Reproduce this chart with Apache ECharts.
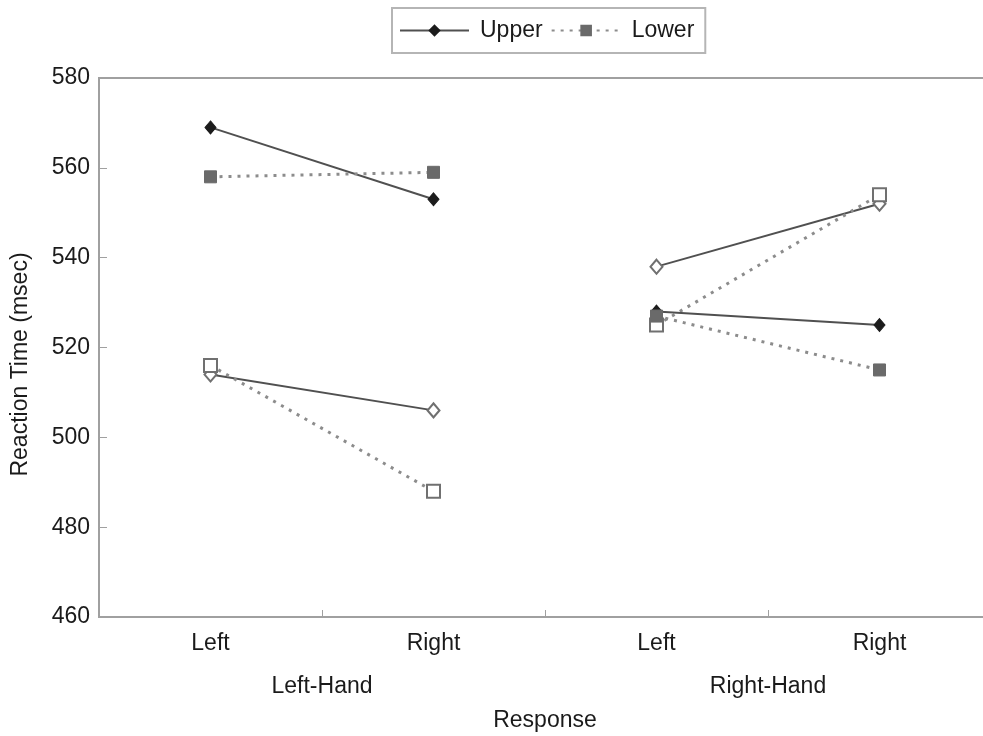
<!DOCTYPE html>
<html>
<head>
<meta charset="utf-8">
<script src="https://cdn.jsdelivr.net/npm/echarts@6/dist/echarts.min.js"></script>
<style>
  html, body { margin: 0; padding: 0; background: #fff; }
  #chart { width: 983px; height: 736px; }
</style>
</head>
<body>
<div id="chart"></div>
<script>
// Response categories within each hand, and the hand groups below them
const categories = ['Left', 'Right', 'Left', 'Right'];
const hands = ['Left-Hand', 'Right-Hand'];
const yTicks = [460, 480, 500, 520, 540, 560, 580];

// Mean reaction times (msec), one value per category
const upperFilled = [569, 553, 528, 525];
const lowerFilled = [558, 559, 527, 515];
const upperOpen = [514, 506, 538, 552];
const lowerOpen = [516, 488, 525, 554];

const FONT = '"Liberation Sans", Arial, sans-serif';
const FS = 23;

// Split a 4-value row into the Left-Hand and Right-Hand halves so lines
// only connect responses within the same hand
function half(values, g) {
  return values.map((v, i) => (Math.floor(i / 2) === g ? v : null));
}

const upperLine = { color: '#505050', width: 2, type: 'solid' };
const lowerLine = { color: '#8c8c8c', width: 3, type: [3, 6], cap: 'butt' };

function makeSeries(name, values, g, kind, filled) {
  const isUpper = kind === 'upper';
  return {
    name: name,
    type: 'line',
    data: half(values, g),
    connectNulls: false,
    symbol: isUpper ? 'diamond' : 'rect',
    symbolSize: isUpper ? (filled ? [11, 13] : [12, 14]) : (filled ? 12 : 13),
    lineStyle: isUpper ? upperLine : lowerLine,
    itemStyle: filled
      ? { color: isUpper ? '#1c1c1c' : '#6a6a6a', borderColor: isUpper ? '#1c1c1c' : '#6a6a6a', borderWidth: 1 }
      : { color: '#ffffff', borderColor: '#707070', borderWidth: 2 },
    emphasis: { disabled: true },
    z: filled ? 3 : 2
  };
}

const series = [
  makeSeries('Upper', upperFilled, 0, 'upper', true),
  makeSeries('Lower', lowerFilled, 0, 'lower', true),
  makeSeries('Upper', upperFilled, 1, 'upper', true),
  makeSeries('Lower', lowerFilled, 1, 'lower', true),
  makeSeries('Upper open', upperOpen, 0, 'upper', false),
  makeSeries('Lower open', lowerOpen, 0, 'lower', false),
  makeSeries('Upper open', upperOpen, 1, 'upper', false),
  makeSeries('Lower open', lowerOpen, 1, 'lower', false)
];

const chart = echarts.init(document.getElementById('chart'), null, { renderer: 'canvas' });
chart.setOption({
  animation: false,
  backgroundColor: '#ffffff',
  textStyle: { fontFamily: FONT },
  legend: {
    data: ['Upper', 'Lower'],
    left: 392,
    top: 8,
    padding: [11, 11, 11, 7],
    itemWidth: 69,
    itemHeight: 12,
    itemGap: 8,
    borderColor: '#b5b5b5',
    borderWidth: 2,
    textStyle: { fontFamily: FONT, fontSize: FS, color: '#1a1a1a', padding: [0, 0, 0, 6] }
  },
  grid: {
    left: 99,
    top: 78,
    bottom: 119,
    right: -8,
    outerBoundsMode: 'none',
    containLabel: false,
    show: true,
    borderColor: '#a0a0a0',
    borderWidth: 2
  },
  xAxis: [
    {
      type: 'category',
      data: categories,
      position: 'bottom',
      boundaryGap: true,
      axisLine: { show: true, lineStyle: { color: '#a0a0a0', width: 2 } },
      axisTick: { show: true, inside: true, length: 7, lineStyle: { color: '#a0a0a0', width: 1 } },
      axisLabel: { fontFamily: FONT, fontSize: FS, color: '#1a1a1a', margin: 15 },
      splitLine: { show: false }
    },
    {
      type: 'category',
      data: hands,
      position: 'bottom',
      offset: 44,
      boundaryGap: true,
      axisLine: { show: false },
      axisTick: { show: false },
      axisLabel: { fontFamily: FONT, fontSize: FS, color: '#1a1a1a', margin: 14 },
      splitLine: { show: false },
      name: 'Response',
      nameLocation: 'middle',
      nameGap: 48,
      nameTextStyle: { fontFamily: FONT, fontSize: FS, color: '#1a1a1a' }
    }
  ],
  yAxis: {
    type: 'value',
    min: yTicks[0],
    max: yTicks[yTicks.length - 1],
    interval: 20,
    name: 'Reaction Time (msec)',
    nameLocation: 'middle',
    nameGap: 67,
    nameTextStyle: { fontFamily: FONT, fontSize: FS, color: '#1a1a1a', padding: [0, 34, 0, 0] },
    axisLine: { show: true, lineStyle: { color: '#a0a0a0', width: 2 } },
    axisTick: { show: true, inside: true, length: 8, lineStyle: { color: '#a0a0a0', width: 1 } },
    axisLabel: { fontFamily: FONT, fontSize: FS, color: '#1a1a1a', margin: 9 },
    splitLine: { show: false }
  },
  series: series
});
</script>
</body>
</html>
